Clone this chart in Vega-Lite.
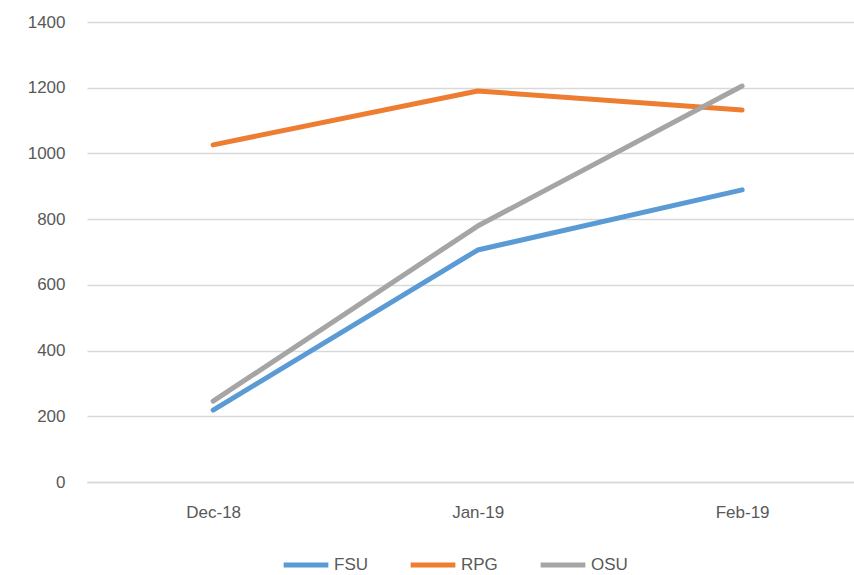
{
  "$schema": "https://vega.github.io/schema/vega-lite/v6.json",
  "width": 767,
  "height": 460,
  "autosize": {"type": "none"},
  "padding": {"left": 87, "top": 22, "right": 0, "bottom": 93},
  "background": "white",
  "config": {
    "view": {"stroke": null},
    "font": "Liberation Sans"
  },
  "data": {
    "values": [
      {"month": "Dec-18", "series": "FSU", "value": 219},
      {"month": "Jan-19", "series": "FSU", "value": 706},
      {"month": "Feb-19", "series": "FSU", "value": 889},
      {"month": "Dec-18", "series": "RPG", "value": 1026},
      {"month": "Jan-19", "series": "RPG", "value": 1190},
      {"month": "Feb-19", "series": "RPG", "value": 1132},
      {"month": "Dec-18", "series": "OSU", "value": 246},
      {"month": "Jan-19", "series": "OSU", "value": 779},
      {"month": "Feb-19", "series": "OSU", "value": 1205}
    ]
  },
  "mark": {"type": "line", "strokeWidth": 5, "strokeCap": "round", "strokeJoin": "round"},
  "encoding": {
    "x": {
      "field": "month",
      "type": "ordinal",
      "sort": ["Dec-18", "Jan-19", "Feb-19"],
      "scale": {"type": "point", "padding": 0.45, "align": 0.53},
      "axis": {"title": null, "labelAngle": 0, "ticks": false, "domain": true, "domainColor": "#d9d9d9", "domainWidth": 1.5, "labelPadding": 22, "grid": false, "labelFontSize": 17, "labelColor": "#595959", "labelFont": "Liberation Sans"}
    },
    "y": {
      "field": "value",
      "type": "quantitative",
      "scale": {"domain": [0, 1400], "nice": false},
      "axis": {"title": null, "values": [0, 200, 400, 600, 800, 1000, 1200, 1400], "format": "d", "ticks": false, "domain": false, "gridColor": "#d9d9d9", "gridWidth": 1.5, "labelPadding": 22, "labelFontSize": 17, "labelColor": "#595959", "labelFont": "Liberation Sans"}
    },
    "color": {
      "field": "series",
      "type": "nominal",
      "scale": {"domain": ["FSU", "RPG", "OSU"], "range": ["#5B9BD5", "#ED7D31", "#A5A5A5"]},
      "legend": {
        "orient": "none",
        "legendX": 194,
        "legendY": 518,
        "direction": "horizontal",
        "title": null,
        "symbolType": "stroke",
        "symbolSize": 2000,
        "symbolStrokeWidth": 5,
        "labelFontSize": 17,
        "labelColor": "#595959",
        "labelFont": "Liberation Sans",
        "labelOffset": 3,
        "columnPadding": 32
      }
    }
  }
}
